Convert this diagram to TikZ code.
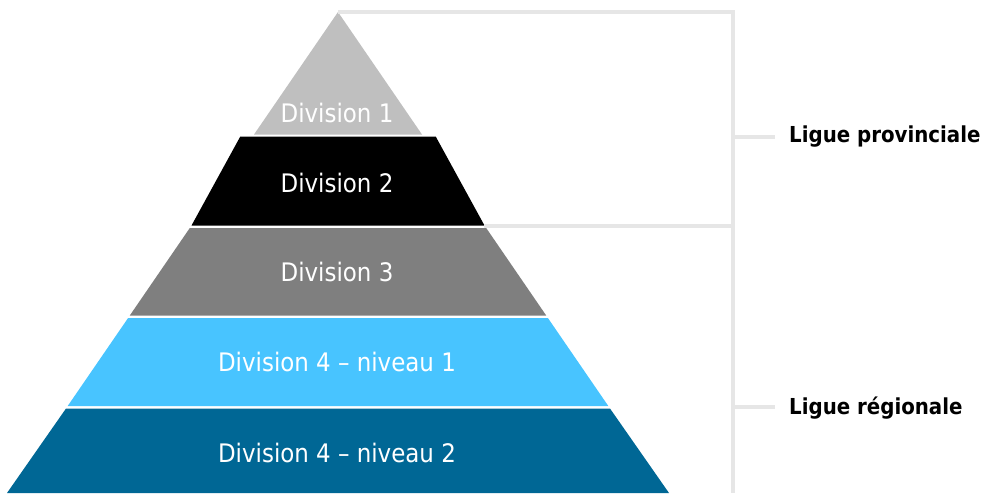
\documentclass[tikz,border=0pt]{standalone}
\usepackage{fontspec}
\setmainfont{DejaVu Sans Condensed}
\definecolor{divone}{HTML}{BFBFBF}
\definecolor{divtwo}{HTML}{000000}
\definecolor{divthree}{HTML}{7F7F7F}
\definecolor{divfoura}{HTML}{48C4FF}
\definecolor{divfourb}{HTML}{006795}
\definecolor{brk}{HTML}{E6E6E6}
\tikzset{
  band/.style={draw=none},
  divlabel/.style={text=white,font=\fontsize{25.5}{30}\selectfont,inner sep=0pt},
  liglabel/.style={text=black,font=\bfseries\fontsize{22}{26}\selectfont,anchor=west,inner sep=0pt},
  brkline/.style={draw=brk,line width=4pt}
}
\begin{document}
\begin{tikzpicture}[x=1pt,y=-1pt]
\useasboundingbox (0,0) rectangle (982,493);
% pyramid bands: apex (338,12), half-width = 0.686*(y-12)
\fill[divone]   (338,12) -- (422.0,134.5) -- (254.0,134.5) -- cycle;
\fill[divtwo]   (240.3,136.5) -- (435.7,136.5) -- (484.5,225.5) -- (191.5,225.5) -- cycle;
\fill[divthree] (189.8,228) -- (486.2,228) -- (546.2,315.5) -- (129.8,315.5) -- cycle;
\fill[divfoura] (128.1,318) -- (547.9,318) -- (608.3,406) -- (67.7,406) -- cycle;
\fill[divfourb] (66.0,408.5) -- (610.0,408.5) -- (669.0,493) -- (7.0,493) -- cycle;
% labels
\node[divlabel] (d1) at (337,113) {Division 1};
\node[divlabel] (d2) at (337,183) {Division 2};
\node[divlabel] (d3) at (337,272) {Division 3};
\node[divlabel] (d4a) at (337,362) {Division 4 – niveau 1};
\node[divlabel] (d4b) at (337,453) {Division 4 – niveau 2};
% bracket
\coordinate (apex) at (338,12);
\coordinate (tr) at (733,12);
\coordinate (br) at (733,493);
\coordinate (midl) at (484,225.5);
\coordinate (midr) at (733,225.5);
\coordinate (t1a) at (733,137);
\coordinate (t1b) at (775,137);
\coordinate (t2a) at (733,407);
\coordinate (t2b) at (775,407);
\draw[brkline] (apex) -- (tr);
\draw[brkline] ([yshift=2pt]tr) -- (br);
\draw[brkline] (midl) -- (midr);
\draw[brkline] (t1a) -- (t1b);
\draw[brkline] (t2a) -- (t2b);
\node[liglabel] (lp) at (789,137) {Ligue provinciale};
\node[liglabel] (lr) at (789,408) {Ligue régionale};
\end{tikzpicture}
\end{document}
